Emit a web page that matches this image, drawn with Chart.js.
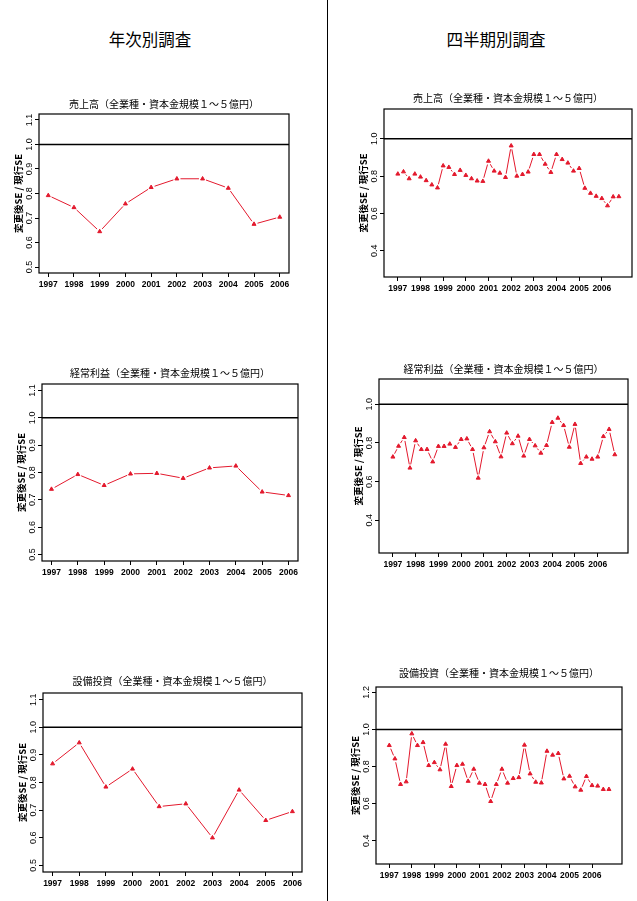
<!DOCTYPE html>
<html lang="ja">
<head>
<meta charset="utf-8">
<title>変更後SE / 現行SE</title>
<script src="https://cdn.jsdelivr.net/npm/chart.js@4.4.1/dist/chart.umd.min.js"></script>
<style>
  body { margin: 0; background: #fff; }
  #page { position: relative; width: 637px; height: 901px; overflow: hidden; background: #fff; font-family: 'Noto Sans CJK JP', sans-serif; }
  .divider { position: absolute; left: 327px; top: 0; width: 1px; height: 901px; background: #000; }
  .head { position: absolute; top: 27px; font-size: 16.5px; color: #000; transform: translateX(-50%); white-space: nowrap; }
  canvas { position: absolute; }
</style>
</head>
<body>
<div id="page">
  <div class="divider"></div>
  <div class="head" style="left:150px">年次別調査</div>
  <div class="head" style="left:496px">四半期別調査</div>
  <canvas id="c1"></canvas>
  <canvas id="c2"></canvas>
  <canvas id="c3"></canvas>
  <canvas id="c4"></canvas>
  <canvas id="c5"></canvas>
  <canvas id="c6"></canvas>
</div>
<script>
// tick labels / categories
const years = [1997, 1998, 1999, 2000, 2001, 2002, 2003, 2004, 2005, 2006];
const annualTicksY = [0.5, 0.6, 0.7, 0.8, 0.9, 1.0, 1.1];
const quarterTicksY = [0.4, 0.6, 0.8, 1.0];
const capexQuarterTicksY = [0.4, 0.6, 0.8, 1.0, 1.2];

// annual survey (年次別調査)
const annualSales = [0.792, 0.743, 0.645, 0.758, 0.825, 0.860, 0.860, 0.822, 0.675, 0.704];
const annualProfit = [0.739, 0.793, 0.753, 0.795, 0.797, 0.779, 0.817, 0.824, 0.729, 0.716];
const annualCapex = [0.868, 0.944, 0.784, 0.849, 0.713, 0.723, 0.600, 0.773, 0.663, 0.695];

// quarterly survey (四半期別調査), 1997Q1 .. 2006Q4
const quarterlySales = [0.812, 0.824, 0.787, 0.812, 0.796, 0.777, 0.754, 0.738,
  0.856, 0.848, 0.810, 0.832, 0.805, 0.787, 0.775, 0.773, 0.881, 0.828, 0.817, 0.794,
  0.963, 0.801, 0.810, 0.823, 0.917, 0.917, 0.865, 0.821, 0.917, 0.890, 0.871, 0.828,
  0.842, 0.736, 0.709, 0.693, 0.681, 0.642, 0.690, 0.691];
const quarterlyProfit = [0.728, 0.784, 0.829, 0.671, 0.812, 0.767, 0.767, 0.703,
  0.783, 0.783, 0.795, 0.778, 0.819, 0.822, 0.767, 0.619, 0.776, 0.859, 0.807, 0.729,
  0.852, 0.797, 0.836, 0.733, 0.819, 0.786, 0.748, 0.788, 0.907, 0.929, 0.891, 0.779,
  0.897, 0.695, 0.728, 0.717, 0.728, 0.834, 0.871, 0.740];
const quarterlyCapex = [0.914, 0.842, 0.704, 0.718, 0.977, 0.914, 0.930, 0.806,
  0.822, 0.783, 0.921, 0.693, 0.806, 0.813, 0.721, 0.786, 0.711, 0.704, 0.612, 0.704,
  0.786, 0.711, 0.736, 0.741, 0.916, 0.761, 0.716, 0.712, 0.883, 0.862, 0.871, 0.734,
  0.748, 0.691, 0.673, 0.747, 0.698, 0.695, 0.677, 0.677];

const quarterPos = years.flatMap(y => [y, y + 0.25, y + 0.5, y + 0.75]);

const RED = '#e3192d';
const TICK_FONT = "'Liberation Sans', Arial, sans-serif";
const JP_FONT = "'Noto Sans CJK JP', sans-serif";
const GAP = 3.6; // R type="b" style gap around the symbols

// box around the plot, the 1.0 reference line and the panel title
const framePlugin = {
  id: 'frame',
  beforeDatasetsDraw(chart, args, o) {
    const {ctx, chartArea: a, scales: {y}} = chart;
    const ry = y.getPixelForValue(o.refValue);
    ctx.save();
    ctx.strokeStyle = '#000';
    ctx.lineWidth = 1.5;
    ctx.beginPath();
    ctx.moveTo(a.left, ry);
    ctx.lineTo(a.right, ry);
    ctx.stroke();
    ctx.restore();
  },
  afterDraw(chart, args, o) {
    const {ctx, chartArea: a} = chart;
    ctx.save();
    ctx.strokeStyle = '#000';
    ctx.lineWidth = 1.2;
    ctx.strokeRect(a.left, a.top, a.right - a.left, a.bottom - a.top);
    ctx.fillStyle = '#000';
    ctx.font = '10px ' + JP_FONT;
    ctx.textAlign = 'center';
    ctx.textBaseline = 'middle';
    ctx.fillText(o.title, (a.left + a.right) / 2, a.top - o.titleGap);
    ctx.restore();
  }
};

// shorten each segment by GAP at both ends, drop it when too short
function gapDash(ctx) {
  const L = Math.hypot(ctx.p1.x - ctx.p0.x, ctx.p1.y - ctx.p0.y);
  return L > 2 * GAP ? [0, GAP, L - 2 * GAP, 10000] : [0, 10000];
}

function makeChart(p) {
  const [l, t, r, b] = p.box;
  const canvas = document.getElementById(p.id);
  const w = r - l + 46, h = b - t + 60;
  canvas.width = w; canvas.height = h;
  canvas.style.left = (l - 40) + 'px';
  canvas.style.top = (t - 30) + 'px';
  canvas.style.width = w + 'px';
  canvas.style.height = h + 'px';

  new Chart(canvas.getContext('2d'), {
    type: 'line',
    data: {
      datasets: [{
        data: p.x.map((x, i) => ({x: x, y: p.y[i]})),
        borderColor: RED,
        backgroundColor: RED,
        borderWidth: 1,
        pointStyle: 'triangle',
        pointRadius: 2.3,
        pointBorderWidth: 1,
        pointBorderColor: RED,
        pointBackgroundColor: RED,
        tension: 0,
        segment: { borderDash: gapDash }
      }]
    },
    options: {
      responsive: false,
      animation: false,
      layout: { padding: { top: 30, right: 6, left: 0, bottom: 0 } },
      plugins: {
        legend: { display: false },
        tooltip: { enabled: false },
        frame: { title: p.title, titleGap: p.titleGap, refValue: 1.0 }
      },
      scales: {
        x: {
          type: 'linear',
          bounds: 'data',
          min: p.xMin, max: p.xMax,
          afterBuildTicks: s => { s.ticks = years.map(v => ({value: v})); },
          afterFit: s => { s.height = 30; },
          grid: { display: true, drawOnChartArea: false, drawTicks: true, tickLength: 4, color: '#000' },
          border: { display: false },
          ticks: {
            autoSkip: false, maxRotation: 0, minRotation: 0, padding: 3,
            color: '#000', font: { family: TICK_FONT, size: 8.5, weight: 'bold' },
            callback: v => String(v)
          }
        },
        y: {
          type: 'linear',
          bounds: 'data',
          min: p.yMin, max: p.yMax,
          afterBuildTicks: s => { s.ticks = p.yTicks.map(v => ({value: v})); },
          afterFit: s => { s.width = 40; },
          grid: { display: true, drawOnChartArea: false, drawTicks: true, tickLength: 4, color: '#000' },
          border: { display: false },
          title: {
            display: true, text: '変更後SE / 現行SE', color: '#000',
            font: { family: JP_FONT, size: 9.5, weight: 'bold' },
            padding: { top: 13.3, bottom: 0 }
          },
          ticks: {
            minRotation: 90, maxRotation: 90, crossAlign: 'center', padding: p.tickPad,
            color: '#000', font: { family: TICK_FONT, size: 9 },
            callback: v => v.toFixed(1)
          }
        }
      }
    },
    plugins: [framePlugin]
  });
}

const panels = [
  { id: 'c1', title: '売上高（全業種・資本金規模１～５億円）', x: years, y: annualSales, yTicks: annualTicksY,
    xMin: 1996.64, xMax: 2006.36, yMin: 0.476, yMax: 1.124, box: [39, 114, 289, 273], titleGap: 9.3, tickPad: -1.2 },
  { id: 'c3', title: '経常利益（全業種・資本金規模１～５億円）', x: years, y: annualProfit, yTicks: annualTicksY,
    xMin: 1996.64, xMax: 2006.36, yMin: 0.476, yMax: 1.124, box: [42, 384, 298, 561], titleGap: 11, tickPad: -1.2 },
  { id: 'c5', title: '設備投資（全業種・資本金規模１～５億円）', x: years, y: annualCapex, yTicks: annualTicksY,
    xMin: 1996.64, xMax: 2006.36, yMin: 0.476, yMax: 1.124, box: [43, 693, 302, 872], titleGap: 11.6, tickPad: -1.2 },
  { id: 'c2', title: '売上高（全業種・資本金規模１～５億円）', x: quarterPos, y: quarterlySales, yTicks: quarterTicksY,
    xMin: 1996.39, xMax: 2007.33, yMin: 0.26, yMax: 1.16, box: [384, 109, 632, 277], titleGap: 10.7, tickPad: -0.3 },
  { id: 'c4', title: '経常利益（全業種・資本金規模１～５億円）', x: quarterPos, y: quarterlyProfit, yTicks: quarterTicksY,
    xMin: 1996.39, xMax: 2007.33, yMin: 0.231, yMax: 1.131, box: [379, 379, 628, 553], titleGap: 10, tickPad: -0.3 },
  { id: 'c6', title: '設備投資（全業種・資本金規模１～５億円）', x: quarterPos, y: quarterlyCapex, yTicks: capexQuarterTicksY,
    xMin: 1996.41, xMax: 2007.33, yMin: 0.274, yMax: 1.229, box: [376, 687, 622, 864], titleGap: 14, tickPad: -0.3 }
];

panels.forEach(makeChart);
</script>
</body>
</html>
